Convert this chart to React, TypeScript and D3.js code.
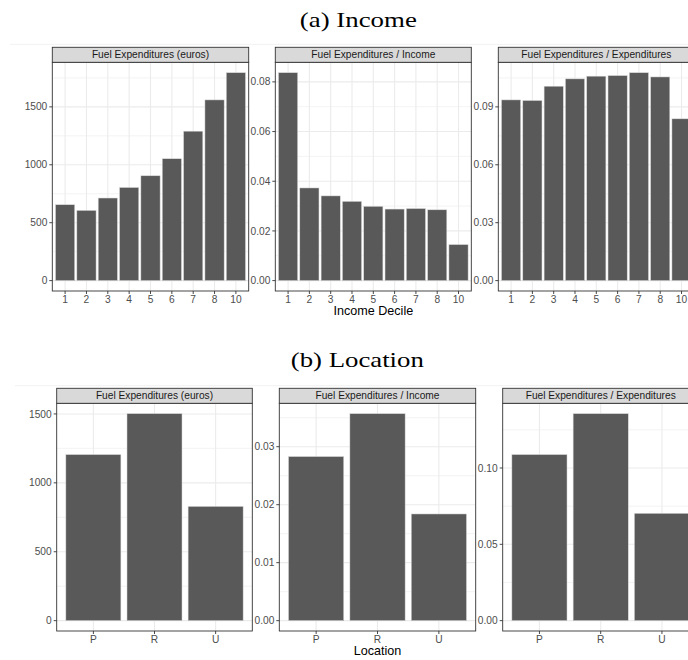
import React from "react";
import * as d3 from "d3";

// ---------- DATA ----------
const incomeDeciles = ["1", "2", "3", "4", "5", "6", "7", "8", "10"];
const incomeFuelEuros = [655, 606, 713, 804, 905, 1052, 1290, 1560, 1795];
const incomeFuelShareIncome = [0.0837, 0.0373, 0.0341, 0.0319, 0.0299, 0.0288, 0.029, 0.0285, 0.0145];
const incomeFuelShareExp = [0.0936, 0.0933, 0.1007, 0.1045, 0.1059, 0.1062, 0.1077, 0.1055, 0.0838];

const locations = ["P", "R", "U"];
const locationFuelEuros = [1205, 1502, 829];
const locationFuelShareIncome = [0.0283, 0.0357, 0.0184];
const locationFuelShareExp = [0.1088, 0.1356, 0.0703];

const stripTitles = ["Fuel Expenditures (euros)", "Fuel Expenditures / Income", "Fuel Expenditures / Expenditures"];

const ticksEuros = [0, 500, 1000, 1500];
const ticksIncomeShareA = [0, 0.02, 0.04, 0.06, 0.08];
const ticksExpShareA = [0, 0.03, 0.06, 0.09];
const ticksIncomeShareB = [0, 0.01, 0.02, 0.03];
const ticksExpShareB = [0, 0.05, 0.1];

// ---------- STYLE ----------
const SANS = "'Liberation Sans', Arial, sans-serif";
const SERIF = "'Liberation Serif', 'DejaVu Serif', serif";
const BAR = "#595959";
const GRID = "#EBEBEB";
const DARK = "#333333";
const TICKTXT = "#4D4D4D";
const FS = 10.2;

type PanelProps = {
  x0: number;
  x1: number;
  stripTop: number;
  top: number;
  bottom: number;
  cats: string[];
  values: number[];
  ticks: number[];
  fmt: string;
  title: string;
};

function Panel({ x0, x1, stripTop, top, bottom, cats, values, ticks, fmt, title }: PanelProps) {
  const max = d3.max(values) as number;
  const y = d3.scaleLinear().domain([-0.05 * max, 1.05 * max]).range([bottom, top]);
  const x = d3.scalePoint<string>().domain(cats).range([x0, x1]).padding(0.6);
  const step = x.step();
  const bw = step * 0.9;
  const f = d3.format(fmt);
  const minor: number[] = [];
  const tstep = ticks[1] - ticks[0];
  for (let v = ticks[0] - tstep / 2; v <= 1.05 * max; v += tstep) {
    if (v >= -0.05 * max) minor.push(v);
  }
  const cx = (x0 + x1) / 2;
  return (
    <g>
      <rect x={x0} y={top} width={x1 - x0} height={bottom - top} fill="#fff" />
      {minor.map((v, i) => (
        <line key={"mn" + i} x1={x0} x2={x1} y1={y(v)} y2={y(v)} stroke={GRID} strokeWidth={0.6} />
      ))}
      {ticks.map((v, i) => (
        <line key={"mj" + i} x1={x0} x2={x1} y1={y(v)} y2={y(v)} stroke={GRID} strokeWidth={1.1} />
      ))}
      {cats.map((c) => (
        <line key={"vx" + c} x1={x(c)} x2={x(c)} y1={top} y2={bottom} stroke={GRID} strokeWidth={1.1} />
      ))}
      {values.map((v, i) => {
        const px = (x(cats[i]) as number) - bw / 2;
        return (
          <rect
            key={"b" + i}
            x={px}
            y={y(v)}
            width={bw}
            height={y(0) - y(v)}
            fill={BAR}
            stroke="#d9d9d9"
            strokeWidth={0.5}
          />
        );
      })}
      <rect x={x0} y={top} width={x1 - x0} height={bottom - top} fill="none" stroke={DARK} strokeWidth={0.9} />
      <rect x={x0} y={stripTop} width={x1 - x0} height={top - stripTop} fill="#D9D9D9" stroke={DARK} strokeWidth={0.9} />
      <text x={cx} y={(stripTop + top) / 2 + 3.6} textAnchor="middle" fontFamily={SANS} fontSize={FS} fill="#1A1A1A">
        {title}
      </text>
      {ticks.map((v, i) => (
        <g key={"yt" + i}>
          <line x1={x0 - 3} x2={x0} y1={y(v)} y2={y(v)} stroke={DARK} strokeWidth={0.9} />
          <text x={x0 - 5} y={y(v) + 3.6} textAnchor="end" fontFamily={SANS} fontSize={FS} fill={TICKTXT}>
            {f(v)}
          </text>
        </g>
      ))}
      {cats.map((c) => (
        <g key={"xt" + c}>
          <line x1={x(c)} x2={x(c)} y1={bottom} y2={bottom + 3} stroke={DARK} strokeWidth={0.9} />
          <text x={x(c)} y={bottom + 11.5} textAnchor="middle" fontFamily={SANS} fontSize={FS} fill={TICKTXT}>
            {c}
          </text>
        </g>
      ))}
    </g>
  );
}

export default function App() {
  const aX = [
    [52.3, 248.7],
    [275.3, 471.3],
    [498.3, 694.3],
  ];
  const bX = [
    [56.7, 252.3],
    [279.3, 475.7],
    [502.7, 698.7],
  ];
  const aData = [incomeFuelEuros, incomeFuelShareIncome, incomeFuelShareExp];
  const aTicks = [ticksEuros, ticksIncomeShareA, ticksExpShareA];
  const aFmt = ["d", ".2f", ".2f"];
  const bData = [locationFuelEuros, locationFuelShareIncome, locationFuelShareExp];
  const bTicks = [ticksEuros, ticksIncomeShareB, ticksExpShareB];
  const bFmt = ["d", ".2f", ".2f"];
  return (
    <svg
      width={688}
      height={660}
      style={{ position: "absolute", left: 0, top: 0, background: "#fff" }}
    >
      <rect x={0} y={0} width={688} height={660} fill="#fff" />
      <line x1={10} x2={688} y1={44.3} y2={44.3} stroke="#F2F2F2" strokeWidth={1} />
      <line x1={15} x2={688} y1={385.7} y2={385.7} stroke="#F2F2F2" strokeWidth={1} />
      <text
        x={358.3}
        y={27}
        textAnchor="middle"
        fontFamily={SERIF}
        fontSize={21}
        textLength={117}
        lengthAdjust="spacingAndGlyphs"
        fill="#000"
      >
        (a) Income
      </text>
      <text
        x={357.3}
        y={366.7}
        textAnchor="middle"
        fontFamily={SERIF}
        fontSize={21}
        textLength={133}
        lengthAdjust="spacingAndGlyphs"
        fill="#000"
      >
        (b) Location
      </text>
      {aX.map((xs, i) => (
        <Panel
          key={"a" + i}
          x0={xs[0]}
          x1={xs[1]}
          stripTop={47.3}
          top={62.3}
          bottom={291}
          cats={incomeDeciles}
          values={aData[i]}
          ticks={aTicks[i]}
          fmt={aFmt[i]}
          title={stripTitles[i]}
        />
      ))}
      <text x={373.3} y={314.5} textAnchor="middle" fontFamily={SANS} fontSize={12.6} fill="#000">
        Income Decile
      </text>
      {bX.map((xs, i) => (
        <Panel
          key={"b" + i}
          x0={xs[0]}
          x1={xs[1]}
          stripTop={388.3}
          top={403.3}
          bottom={631}
          cats={locations}
          values={bData[i]}
          ticks={bTicks[i]}
          fmt={bFmt[i]}
          title={stripTitles[i]}
        />
      ))}
      <text x={377.5} y={655} textAnchor="middle" fontFamily={SANS} fontSize={12.6} fill="#000">
        Location
      </text>
    </svg>
  );
}
